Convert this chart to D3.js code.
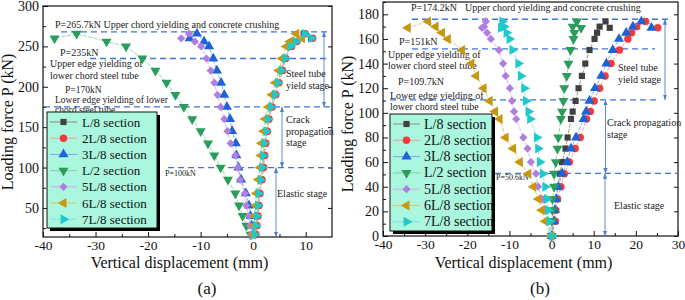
<!DOCTYPE html>
<html>
<head>
<meta charset="utf-8">
<script src="https://cdn.jsdelivr.net/npm/d3@7"></script>
<style>
  body { margin: 0; background: #fff; }
</style>
</head>
<body>
<svg id="chart" width="685" height="300"></svg>
<script>
var sections = ["L/8 section", "2L/8 section", "3L/8 section", "L/2 section", "5L/8 section", "6L/8 section", "7L/8 section"];
var markColor = ["#404040", "#f23a3a", "#1c62d8", "#2a9d5c", "#b07ee0", "#c9970e", "#1ec9c9"];
var lineColor = ["#8a8a8a", "#f59a9a", "#7aa6ee", "#86cfa6", "#cfaef0", "#e2c46a", "#86e3e3"];
var markShape = ["square", "circle", "up", "down", "diamond", "left", "right"];

// (a) loads (kN) and displacement (mm) of each section
var loadA = [17, 28, 40, 53, 68, 85, 100, 115, 130, 145, 160, 175, 190, 205, 220, 235, 250, 256, 265.7, 260];
var a_L8  = [0.4, 0.6, 0.8, 1.0, 1.1, 1.5, 1.8, 2.0, 2.2, 2.6, 2.9, 3.4, 4.1, 4.7, 5.4, 6.0, 7.0, 8.0, 9.6, 11.0];
var a_2L8 = [0.5, 0.7, 0.9, 1.1, 1.3, 1.7, 2.0, 2.2, 2.4, 2.7, 3.0, 3.6, 4.3, 4.9, 5.6, 6.2, 7.3, 8.3, 9.9, 11.3];
var a_3L8 = [-0.1, -0.3, -0.5, -0.8, -1.4, -2.3, -2.8, -3.2, -3.3, -4.0, -4.4, -5.0, -5.5, -6.1, -6.9, -7.6, -8.4, -9.35, -10.7, -12.1];
var a_L2  = [-0.5, -1.3, -2.0, -2.7, -3.4, -4.8, -6.2, -7.4, -8.6, -10.0, -11.6, -13.2, -14.8, -16.5, -18.6, -21.1, -24.2, -27.9, -33.6, -37.8];
var a_5L8 = [-0.4, -0.6, -0.8, -1.3, -1.6, -2.5, -2.9, -3.4, -4.3, -4.9, -5.5, -6.2, -6.8, -7.4, -8.1, -8.9, -9.9, -11.1, -12.2, -13.7];
var a_6L8 = [0.0, 0.2, 0.3, 0.5, 0.6, 1.0, 1.3, 1.5, 1.6, 2.0, 2.3, 2.9, 3.6, 4.2, 4.9, 5.5, 6.3, 7.0, 8.2, 9.3];
var a_7L8 = [0.3, 0.5, 0.7, 0.9, 1.0, 1.4, 1.7, 1.9, 2.1, 2.5, 2.8, 3.4, 4.1, 4.7, 5.4, 6.1, 7.1, 8.1, 9.8, 11.1];

// (b)
var loadB = [0, 12, 21, 30, 40, 50.6, 60, 71, 80, 95, 101, 109.7, 120, 130, 140, 151, 160, 165, 170, 174.2, 169];
var b_L8  = [0, 0.4, 0.7, 1.0, 1.5, 2.0, 2.5, 3.3, 3.8, 4.6, 5.0, 5.7, 6.4, 7.2, 8.0, 9.0, 10.2, 10.8, 11.4, 12.8, 13.8];
var b_2L8 = [0, 0.9, 1.0, 1.4, 2.2, 3.0, 4.2, 5.6, 6.8, 8.3, 9.2, 10.1, 11.4, 12.7, 14.1, 16.1, 18.1, 19.0, 20.2, 22.3, 25.2];
var b_3L8 = [0, 0.6, 0.8, 1.1, 1.6, 2.5, 3.7, 4.6, 5.8, 7.6, 8.2, 9.0, 10.3, 11.8, 13.0, 14.5, 16.0, 17.7, 19.3, 21.3, 23.7];
var b_L2  = [0, 0.1, 0.2, 0.2, 0.6, 0.6, 1.0, 1.4, 1.6, 2.2, 2.5, 2.8, 3.0, 3.6, 4.0, 4.5, 5.2, 5.4, 5.0, 6.0, 7.0];
var b_5L8 = [0, -0.95, -1.5, -2.1, -3.2, -3.7, -4.9, -5.7, -6.7, -8.4, -8.9, -9.4, -9.9, -10.9, -11.5, -12.5, -14.4, -15.3, -16.0, -15.6, -16.5];
var b_6L8 = [0, -1.5, -2.3, -3.1, -4.3, -5.5, -7.5, -9.1, -10.9, -12.3, -13.4, -14.7, -16.1, -17.9, -19.0, -21.2, -24.6, -26.0, -27.5, -29.3, -34.1];
var b_7L8 = [0, -0.5, -0.8, -1.1, -1.5, -2.1, -2.8, -3.2, -3.5, -5.1, -5.5, -6.1, -6.5, -7.3, -7.9, -9.3, -10.0, -10.7, -11.3, -11.7, -12.0];

var xTicks = [-40, -30, -20, -10, 0, 10, 20, 30];
var yTicksA = [50, 100, 150, 200, 250, 300];
var yTicksB = [0, 20, 40, 60, 80, 100, 120, 140, 160, 180];

// stage boundaries (dashed line levels)
var levelsA = [268, 235, 175, 100];
var levelsB = [176, 152, 110.5, 50.8];

var serif = "'Liberation Serif', 'Times New Roman', serif";
var svg = d3.select("#chart").attr("font-family", serif);

svg.append("defs").append("marker")
  .attr("id", "arr")
  .attr("viewBox", "0 0 10 10")
  .attr("refX", 10).attr("refY", 5)
  .attr("markerWidth", 6).attr("markerHeight", 6)
  .attr("orient", "auto-start-reverse")
  .append("path").attr("d", "M0,1 L10,5 L0,9 z").attr("fill", "#4a7fd0");

function symbolPath(shape) {
  if (shape === "square") return d3.symbol().type(d3.symbolSquare).size(38)();
  if (shape === "circle") return d3.symbol().type(d3.symbolCircle).size(44)();
  if (shape === "diamond") return d3.symbol().type(d3.symbolSquare).size(34)();
  return d3.symbol().type(d3.symbolTriangle).size(44)();
}
function symbolRot(shape) {
  return { diamond: 45, down: 180, left: -90, right: 90 }[shape] || 0;
}

function drawPanel(cfg) {
  var g = svg.append("g");
  var x = d3.scaleLinear().domain(cfg.xDomain).range([cfg.left, cfg.right]);
  var y = d3.scaleLinear().domain(cfg.yDomain).range([cfg.bottom, cfg.top]);

  // axes, ticks pointing inwards
  var xMinor = d3.range(cfg.xDomain[0] + 5, cfg.xDomain[1], 10);
  var xMajor = xTicks.filter(function (d) { return d >= cfg.xDomain[0] && d <= cfg.xDomain[1]; });
  g.append("g").attr("transform", "translate(0," + cfg.bottom + ")")
    .call(d3.axisBottom(x).tickValues(xMajor).tickSizeInner(-5).tickSizeOuter(0).tickPadding(3)
      .tickFormat(function (d) { return String(d); }))
    .call(function (s) { s.selectAll("text").attr("font-size", 13.5); });
  g.append("g").attr("transform", "translate(0," + cfg.bottom + ")")
    .call(d3.axisBottom(x).tickValues(xMinor).tickSizeInner(-3).tickSizeOuter(0).tickFormat(""));
  g.append("g").attr("transform", "translate(" + cfg.left + ",0)")
    .call(d3.axisLeft(y).tickValues(cfg.yTicks).tickSizeInner(-5).tickSizeOuter(0).tickPadding(4))
    .call(function (s) { s.selectAll("text").attr("font-size", 14); });
  g.append("g").attr("transform", "translate(" + cfg.left + ",0)")
    .call(d3.axisLeft(y).tickValues(cfg.yMinor).tickSizeInner(-3).tickSizeOuter(0).tickFormat(""));
  g.append("g").attr("transform", "translate(" + cfg.right + ",0)")
    .call(d3.axisLeft(y).tickValues(cfg.yTicks).tickSize(4).tickSizeOuter(0).tickFormat(""));
  g.selectAll(".domain").remove();
  g.selectAll(".tick line").attr("stroke", "#111");
  g.selectAll(".tick text").attr("fill", "#111");
  g.append("rect")
    .attr("x", cfg.left).attr("y", cfg.top)
    .attr("width", cfg.right - cfg.left).attr("height", cfg.bottom - cfg.top)
    .attr("fill", "none").attr("stroke", "#111").attr("stroke-width", 1.2);

  // titles
  g.append("text").attr("x", (cfg.left + cfg.right) / 2 + cfg.xTitleShift).attr("y", 268)
    .attr("text-anchor", "middle").attr("font-size", 16).attr("fill", "#111").text("Vertical displacement (mm)");
  g.append("text").attr("transform", "translate(" + cfg.yTitleX + "," + cfg.yTitleY + ") rotate(-90)")
    .attr("text-anchor", "middle").attr("font-size", 16).attr("fill", "#111").text("Loading force P (kN)");
  g.append("text").attr("x", cfg.tagX).attr("y", 294)
    .attr("text-anchor", "middle").attr("font-size", 17).attr("fill", "#111").text(cfg.tag);

  // dashed stage lines
  cfg.lines.forEach(function (l) {
    g.append("line")
      .attr("x1", l.x1).attr("x2", l.x2)
      .attr("y1", y(l.v)).attr("y2", y(l.v))
      .attr("stroke", "#3f74dc").attr("stroke-width", 1.3).attr("stroke-dasharray", "6,4");
  });
  // stage arrows
  cfg.arrows.forEach(function (a) {
    g.append("line")
      .attr("x1", a.x).attr("x2", a.x)
      .attr("y1", y(a.v0)).attr("y2", y(a.v1))
      .attr("stroke", "#4a7fd0").attr("stroke-width", 0.9)
      .attr("marker-start", "url(#arr)").attr("marker-end", "url(#arr)");
  });
  // notes
  cfg.notes.forEach(function (n) {
    g.append("text").attr("x", n.x).attr("y", n.y)
      .attr("font-size", n.size || 10).attr("fill", "#222").text(n.t);
  });

  // series
  var line = d3.line()
    .x(function (d) { return x(d[0]); })
    .y(function (d) { return y(d[1]); });
  cfg.series.forEach(function (vals, i) {
    var pts = vals.map(function (v, k) { return [v, cfg.load[k]]; });
    g.append("path").datum(pts)
      .attr("d", line).attr("fill", "none")
      .attr("stroke", lineColor[i]).attr("stroke-width", 0.9).attr("stroke-dasharray", "4,1.5");
    g.selectAll(null).data(pts).enter().append("path")
      .attr("d", symbolPath(markShape[i]))
      .attr("transform", function (d) {
        return "translate(" + x(d[0]) + "," + y(d[1]) + ") rotate(" + symbolRot(markShape[i]) + ")";
      })
      .attr("fill", markColor[i]);
  });

  // legend
  var L = cfg.legend;
  var lg = g.append("g");
  lg.append("rect").attr("x", L.x + 3).attr("y", L.y + 3).attr("width", L.w).attr("height", L.h).attr("fill", "#000");
  lg.append("rect").attr("x", L.x).attr("y", L.y).attr("width", L.w).attr("height", L.h)
    .attr("fill", "#aaf6df").attr("stroke", "#111").attr("stroke-width", 1);
  sections.forEach(function (name, i) {
    var cy = L.y + L.first + i * L.step;
    lg.append("line").attr("x1", L.x + 3).attr("x2", L.x + 30).attr("y1", cy).attr("y2", cy)
      .attr("stroke", lineColor[i]).attr("stroke-width", 1);
    lg.append("path").attr("d", symbolPath(markShape[i]))
      .attr("transform", "translate(" + (L.x + 16.5) + "," + cy + ") rotate(" + symbolRot(markShape[i]) + ")")
      .attr("fill", markColor[i]);
    lg.append("text").attr("x", L.x + L.tx).attr("y", cy + 4.5)
      .attr("font-size", L.fs).attr("fill", "#111").text(name);
  });

  // every text in the serif face
  g.selectAll("g").attr("font-family", null);
  g.selectAll("text").attr("font-family", serif);
}

drawPanel({
  left: 43, right: 332, top: 6, bottom: 237,
  xDomain: [-40, 15], yDomain: [14, 300],
  yTicks: yTicksA, yMinor: [25, 75, 125, 175, 225, 275],
  load: loadA,
  series: [a_L8, a_2L8, a_3L8, a_L2, a_5L8, a_6L8, a_7L8],
  xTitleShift: -8, yTitleX: 13, yTitleY: 122, tag: "(a)", tagX: 207,
  lines: [
    { v: levelsA[0], x1: 61, x2: 332 },
    { v: levelsA[1], x1: 90, x2: 327 },
    { v: levelsA[2], x1: 44, x2: 332 },
    { v: levelsA[3], x1: 168, x2: 332 }
  ],
  arrows: [
    { x: 324, v0: levelsA[0], v1: levelsA[2] },
    { x: 282, v0: levelsA[2], v1: levelsA[3] },
    { x: 276, v0: levelsA[3], v1: 14 }
  ],
  notes: [
    { x: 55, y: 27.5, t: "P=265.7kN Upper chord yielding and concrete crushing" },
    { x: 60, y: 56, t: "P=235kN" },
    { x: 50, y: 67, t: "Upper edge yielding of" },
    { x: 50, y: 78.5, t: "lower chord steel tube" },
    { x: 65, y: 93, t: "P=170kN", size: 9.5 },
    { x: 55, y: 102.5, t: "Lower edge yielding of lower", size: 9.5 },
    { x: 55, y: 112.5, t: "chord steel tube", size: 9.5 },
    { x: 165, y: 176, t: "P=100kN", size: 8 },
    { x: 286, y: 77, t: "Steel tube" },
    { x: 286, y: 89, t: "yield stage" },
    { x: 286, y: 123, t: "Crack" },
    { x: 286, y: 134.5, t: "propagation" },
    { x: 286, y: 146, t: "stage" },
    { x: 277, y: 196.5, t: "Elastic stage" }
  ],
  legend: { x: 47, y: 112, w: 110, h: 116, first: 10, step: 16.2, tx: 35, fs: 13 }
});

drawPanel({
  left: 383, right: 678, top: 2, bottom: 236,
  xDomain: [-40, 30], yDomain: [0, 190],
  yTicks: yTicksB, yMinor: [10, 30, 50, 70, 90, 110, 130, 150, 170, 190],
  load: loadB,
  series: [b_L8, b_2L8, b_3L8, b_L2, b_5L8, b_6L8, b_7L8],
  xTitleShift: -7, yTitleX: 353, yTitleY: 124, tag: "(b)", tagX: 540,
  lines: [
    { v: levelsB[0], x1: 412, x2: 668 },
    { v: levelsB[1], x1: 412, x2: 655 },
    { v: levelsB[2], x1: 390, x2: 660 },
    { v: levelsB[3], x1: 495, x2: 677 }
  ],
  arrows: [
    { x: 665, v0: levelsB[0], v1: levelsB[2] },
    { x: 605.5, v0: levelsB[2], v1: levelsB[3] },
    { x: 605, v0: levelsB[3], v1: 0 }
  ],
  notes: [
    { x: 411, y: 10.5, t: "P=174.2kN" },
    { x: 465, y: 10.5, t: "Upper chord yielding and concrete crushing" },
    { x: 399, y: 45, t: "P=151kN" },
    { x: 388, y: 57.5, t: "Upper edge yielding of" },
    { x: 388, y: 68.5, t: "lower chord steel tube" },
    { x: 398, y: 84.5, t: "P=109.7kN" },
    { x: 390, y: 98.5, t: "Lower edge yielding of" },
    { x: 390, y: 109.5, t: "lower chord steel tube" },
    { x: 496, y: 180, t: "P=50.6kN", size: 8 },
    { x: 618, y: 70.5, t: "Steel tube" },
    { x: 618, y: 82.5, t: "yield stage" },
    { x: 607, y: 126, t: "Crack propagation" },
    { x: 607, y: 137.5, t: "stage" },
    { x: 614, y: 208.5, t: "Elastic stage" }
  ],
  legend: { x: 390, y: 114, w: 102, h: 117, first: 10, step: 16.3, tx: 34, fs: 14 }
});
</script>
</body>
</html>
